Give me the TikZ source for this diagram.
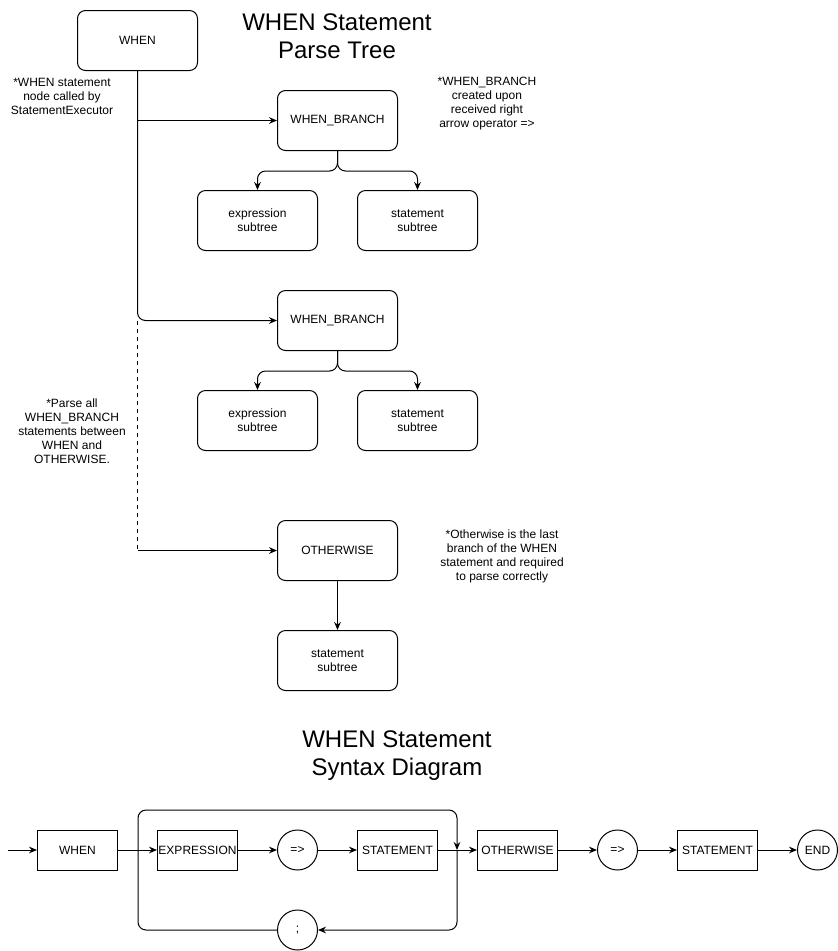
\documentclass[tikz,border=0pt]{standalone}
\usepackage{fontspec}
\setmainfont{Liberation Sans}
\usetikzlibrary{positioning,arrows.meta}

\begin{document}
\begin{tikzpicture}[x=0.75pt,y=-0.75pt,line width=0.75pt,
    >={Stealth[length=6pt,width=5pt,inset=2pt]},
    treebox/.style={draw,rounded corners=6pt,minimum width=90pt,minimum height=45pt,inner sep=0pt,align=center,font=\fontsize{9}{10.5}\selectfont},
    synbox/.style={draw,minimum width=60pt,minimum height=30pt,inner sep=0pt,font=\fontsize{9}{10.5}\selectfont},
    syncirc/.style={draw,circle,minimum size=30pt,inner sep=0pt,font=\fontsize{9}{10.5}\selectfont},
    note/.style={align=center,inner sep=0pt,font=\fontsize{9}{10.5}\selectfont},
    heading/.style={align=center,inner sep=0pt,font=\fontsize{18}{21}\selectfont}]
        \useasboundingbox (0,0) rectangle (838,951);

        % parse tree
        \node (when) [treebox] at (137.5,40.5) {WHEN};
        \node (title1) [heading] at (337,36) {WHEN Statement\\Parse Tree};
        \node (note1) [note] at (62,96) {*WHEN statement\\node called by\\StatementExecutor};
        \node (wb1) [treebox] at (337.5,120.5) {WHEN\_BRANCH};
        \node (note2) [note] at (487,104) {*WHEN\_BRANCH\\created upon\\received right\\arrow operator =>};
        \node (expr1) [treebox] at (257.5,220.5) {expression\\subtree};
        \node (stmt1) [treebox] at (417.5,220.5) {statement\\subtree};
        \node (wb2) [treebox] at (337.5,320.5) {WHEN\_BRANCH};
        \node (expr2) [treebox] at (257.5,420.5) {expression\\subtree};
        \node (stmt2) [treebox] at (417.5,420.5) {statement\\subtree};
        \node (note3) [note] at (72,431) {*Parse all\\WHEN\_BRANCH\\statements between\\WHEN and\\OTHERWISE.};
        \node (othw) [treebox] at (337.5,550.5) {OTHERWISE};
        \node (note4) [note] at (502,556) {*Otherwise is the last\\branch of the WHEN\\statement and required\\to parse correctly};
        \node (stmt3) [treebox] at (337.5,660.5) {statement\\subtree};

        \coordinate (fork) at (when.south |- wb2.west);
        \coordinate (dashend) at (when.south |- othw.west);

        \draw[->,rounded corners=6pt] (when.south) |- (wb2.west);
        \draw[->] (when.south |- wb1.west) -- (wb1.west);
        \draw[dashed] (fork) -- (dashend);
        \draw[->] (dashend) -- (othw.west);
        \draw[->,rounded corners=6pt] (wb1.south) -- ++(0,20) -| (expr1.north);
        \draw[->,rounded corners=6pt] (wb1.south) -- ++(0,20) -| (stmt1.north);
        \draw[->,rounded corners=6pt] (wb2.south) -- ++(0,20) -| (expr2.north);
        \draw[->,rounded corners=6pt] (wb2.south) -- ++(0,20) -| (stmt2.north);
        \draw[->] (othw) -- (stmt3);

        % syntax diagram
        \node (title2) [heading] at (397,756) {WHEN Statement\\Syntax Diagram};
        \coordinate (start) at (8,850);
        \node (swhen) [synbox] at (77.5,850) {WHEN};
        \node (sexpr) [synbox] at (197.5,850) {EXPRESSION};
        \node (sarr1) [syncirc] at (297.5,850) {=>};
        \node (sstm1) [synbox] at (397.5,850) {STATEMENT};
        \node (semi) [syncirc] at (297.5,930) {;};
        \node (sothw) [synbox] at (517.5,850) {OTHERWISE};
        \node (sarr2) [syncirc] at (617.5,850) {=>};
        \node (sstm2) [synbox] at (717.5,850) {STATEMENT};
        \node (send) [syncirc] at (817.5,850) {END};

        \coordinate (join) at (457,850);
        \coordinate (loopnw) at (138,810);

        \draw[->] (start) -- (swhen);
        \draw[->] (swhen) -- (sexpr);
        \draw[->] (sexpr) -- (sarr1);
        \draw[->] (sarr1) -- (sstm1);
        \draw[->] (sstm1) -- (sothw);
        \draw[->,rounded corners=6pt] (join) |- (semi.east);
        \draw[->,rounded corners=6pt] (semi.west) -| (loopnw) -| (join);
        \draw[->] (sothw) -- (sarr2);
        \draw[->] (sarr2) -- (sstm2);
        \draw[->] (sstm2) -- (send);
\end{tikzpicture}
\end{document}
